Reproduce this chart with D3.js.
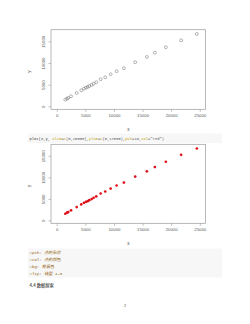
<!DOCTYPE html>
<html><head><meta charset="utf-8">
<script src="https://cdn.jsdelivr.net/npm/d3@7"></script>
<style>html,body{margin:0;padding:0;background:#fff;}svg{display:block;}</style>
</head><body>
<script>
// data
const xs = [1500,1800,2020,2500,3490,4290,4760,5110,5410,5690,6100,6450,6910,7680,8480,9420,10470,11740,13710,15750,17150,19070,21740,24480];
const ys = [1545,1780,1940,2330,3090,3710,4080,4310,4470,4700,4940,5230,5560,6250,6710,7400,8100,8790,10170,11390,12380,13630,15240,16700];
const xTicks = [0,5000,10000,15000,20000,25000];
const yTicks = [0,5000,10000,15000];
const xLim = [0,25000], yLim = [0,17000];
const codeParts = [["plot(x,y, ","#333"],["xlim","#c4a000"],["=","#555"],["c","#c4a000"],["(0,25000),","#555"],["ylim","#c4a000"],["=","#555"],["c","#c4a000"],["(0,17000),","#555"],["pch","#c4a000"],["=16,","#555"],["col","#c4a000"],["=\"red\")","#555"]];
const comments = ["#pch: 点的形状","#col: 点的颜色","#bg: 背景色","#lty: 线型 1-6"];
const heading = "4.4 数据探索";

const svg = d3.select("body").append("svg").attr("width",250).attr("height",324);
svg.append("rect").attr("width",250).attr("height",324).attr("fill","#fff");

const pad = v => [v[0]-(v[1]-v[0])*0.04, v[1]+(v[1]-v[0])*0.04];
const x = d3.scaleLinear().domain(pad(xLim)).range([51,205.5]);

function panel(top, bottom, filled){
  const y = d3.scaleLinear().domain(pad(yLim)).range([bottom, top]);
  const g = svg.append("g");
  g.append("rect").attr("x",51).attr("y",top).attr("width",154.5).attr("height",bottom-top)
    .attr("fill","none").attr("stroke","#9a9a9a").attr("stroke-width",0.7);
  const ax = g.append("g").attr("transform",`translate(0,${bottom})`)
    .call(d3.axisBottom(x).tickValues(xTicks).tickSize(2.6).tickPadding(2).tickFormat(d3.format("d")));
  ax.select(".domain").remove();
  ax.selectAll("line").attr("stroke","#9a9a9a").attr("stroke-width",0.6);
  ax.selectAll("text").attr("font-family","Liberation Sans, Arial, sans-serif").attr("font-size",4.3).attr("fill","#555");
  const ay = g.append("g").attr("transform","translate(51,0)")
    .call(d3.axisLeft(y).tickValues(yTicks).tickSize(2.6).tickFormat(d3.format("d")));
  ay.select(".domain").remove();
  ay.selectAll("line").attr("stroke","#9a9a9a").attr("stroke-width",0.6);
  ay.selectAll("text").attr("transform","rotate(-90)").attr("x",0).attr("y",-6.2).attr("dy",0)
    .style("text-anchor","middle").attr("font-family","Liberation Sans, Arial, sans-serif").attr("font-size",4.3).attr("fill","#555");
  g.append("text").attr("x",128.3).attr("y",bottom+21.5).attr("text-anchor","middle")
    .attr("font-family","Liberation Sans, Arial, sans-serif").attr("font-size",4.5).attr("fill","#444").text("x");
  g.append("text").attr("transform",`translate(30.5,${(top+bottom)/2+2}) rotate(-90)`).attr("text-anchor","middle")
    .attr("font-family","Liberation Sans, Arial, sans-serif").attr("font-size",4.5).attr("fill","#444").text("y");
  g.selectAll("circle").data(xs).join("circle")
    .attr("cx",(d)=>x(d)).attr("cy",(d,i)=>y(ys[i]))
    .attr("r", filled?1.35:1.45)
    .attr("fill", filled?"#e0101a":"none")
    .attr("stroke", filled?"none":"#777").attr("stroke-width",0.55);
}
panel(29.7,109.3,false);
panel(144.3,223.3,true);

// code block
svg.append("rect").attr("x",28).attr("y",133.5).attr("width",194).attr("height",9.5).attr("fill","#f7f7f7");
const ct = svg.append("text").attr("x",29.5).attr("y",139.8).attr("font-family","Liberation Mono, DejaVu Sans Mono, monospace").attr("font-size",3.8);
codeParts.forEach(p=>ct.append("tspan").attr("fill",p[1]).text(p[0]));

// comment block
svg.append("rect").attr("x",28).attr("y",248.5).attr("width",194).attr("height",29).attr("fill","#f7f7f7");
comments.forEach((c,i)=>svg.append("text").attr("x",29.5).attr("y",254.3+i*6.8)
  .attr("font-family","Liberation Mono, Noto Sans CJK SC, monospace").attr("font-size",4.1)
  .attr("font-style","italic").attr("fill","#8f5902").text(c));
svg.append("text").attr("x",29.5).attr("y",286.6).attr("font-family","Noto Sans CJK SC, sans-serif")
  .attr("font-size",4.3).attr("font-weight","500").attr("fill","#333").text(heading);
svg.append("text").attr("x",125).attr("y",307).attr("text-anchor","middle").attr("font-family","Liberation Serif, serif")
  .attr("font-size",4.2).attr("fill","#444").text("2");
</script>
</body></html>
